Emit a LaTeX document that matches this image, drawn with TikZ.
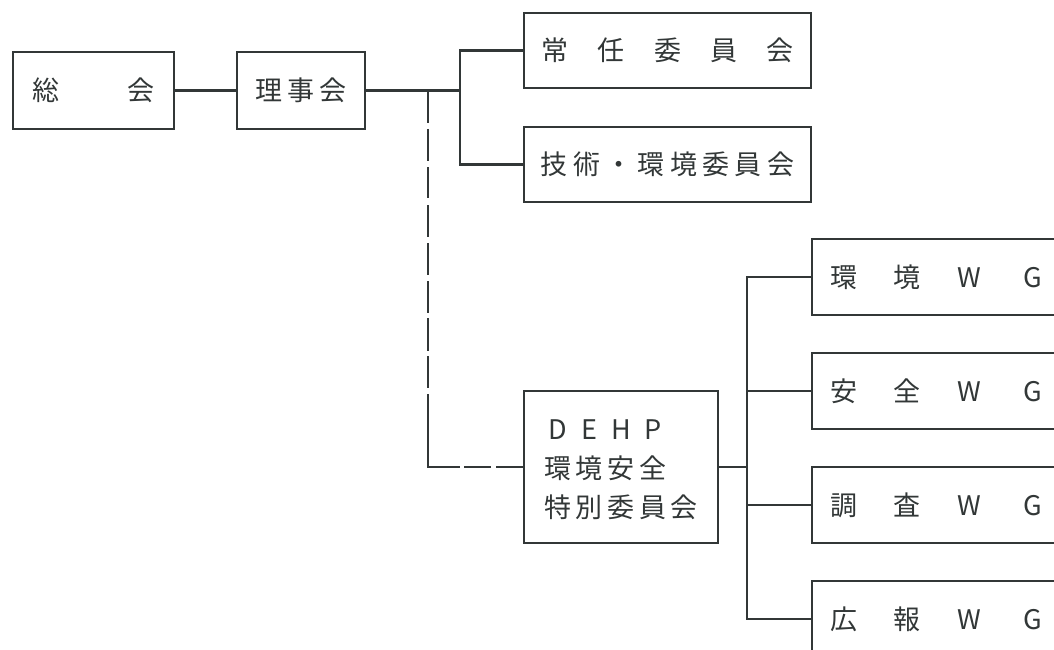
\documentclass[tikz,border=0pt]{standalone}
\usepackage{fontspec}
\usepackage{xcolor}
\newfontfamily\jp{Noto Sans CJK JP}
\definecolor{ink}{RGB}{50,55,55}
\newlength\chpitch
\newcommand\spc[2]{\setlength\chpitch{#1}\spcaux#2\relax}
\def\spcaux#1{\ifx\relax#1\else\makebox[\chpitch]{#1}\expandafter\spcaux\fi}
\tikzset{
  ink line/.style={draw=ink, line width=2.2pt},
  box/.style={ink line, rectangle, inner sep=0pt, text=ink, font=\jp\fontsize{27pt}{39pt}\selectfont},
  wgbox/.style={box, anchor=west, minimum height=76pt, text width=280pt, align=left},
  dashpat/.style={ink line, dash pattern=on 32.5pt off 6pt on 32pt off 6pt on 31pt off 7pt on 32pt off 6pt on 32pt off 6pt on 32pt off 5pt on 33pt off 5pt on 32pt off 6pt on 105pt off 4pt on 27pt off 5pt on 40pt off 20pt},
}
\begin{document}
\begin{tikzpicture}[x=1pt,y=-1pt]
\useasboundingbox (0,0) rectangle (1054,650);
\clip (0,0) rectangle (1054,650);
\node[box, minimum width=161pt, minimum height=77pt] (sokai) at (93.5,90.5) {総\hspace{69pt}会};
\node[box, minimum width=128pt, minimum height=77pt] (riji) at (301,90.5) {\spc{32.5pt}{理事会}};
\node[box, minimum width=287pt, minimum height=75pt] (jonin) at (667.5,50.5) {\spc{56.5pt}{常任委員会}};
\node[box, minimum width=287pt, minimum height=75pt] (giju) at (667.5,164.5) {\spc{32.3pt}{技術・環境委員会}};
\node[box, minimum width=194pt, minimum height=152pt, align=left] (dehp) at (621,467) {\rule{0pt}{25pt}\spc{31.7pt}{DEHP}\\\spc{31.7pt}{環境安全}\\\spc{31.7pt}{特別委員会}};
\node[wgbox] (wg1) at (811,277) {\spc{63pt}{環境WG}};
\node[wgbox] (wg2) at (811,391) {\spc{63pt}{安全WG}};
\node[wgbox] (wg3) at (811,505) {\spc{63pt}{調査WG}};
\node[wgbox] (wg4) at (811,619) {\spc{63pt}{広報WG}};
\coordinate (b1) at (460,0);
\coordinate (d1) at (428,0);
\coordinate (b2) at (747,0);
\draw[ink line] (sokai) -- (riji);
\draw[ink line] (riji.east) -- (riji.east -| b1);
\draw[ink line] (jonin.west) -| (b1 |- giju.west) -- (giju.west);
\draw[dashpat] (riji.east -| d1) -- (d1 |- dehp.west) -- (dehp.west);
\draw[ink line] (dehp.east) -- (dehp.east -| b2);
\draw[ink line] (wg1.west) -| (b2 |- wg4.west) -- (wg4.west);
\draw[ink line] (b2 |- wg2.west) -- (wg2.west);
\draw[ink line] (b2 |- wg3.west) -- (wg3.west);
\end{tikzpicture}
\end{document}
